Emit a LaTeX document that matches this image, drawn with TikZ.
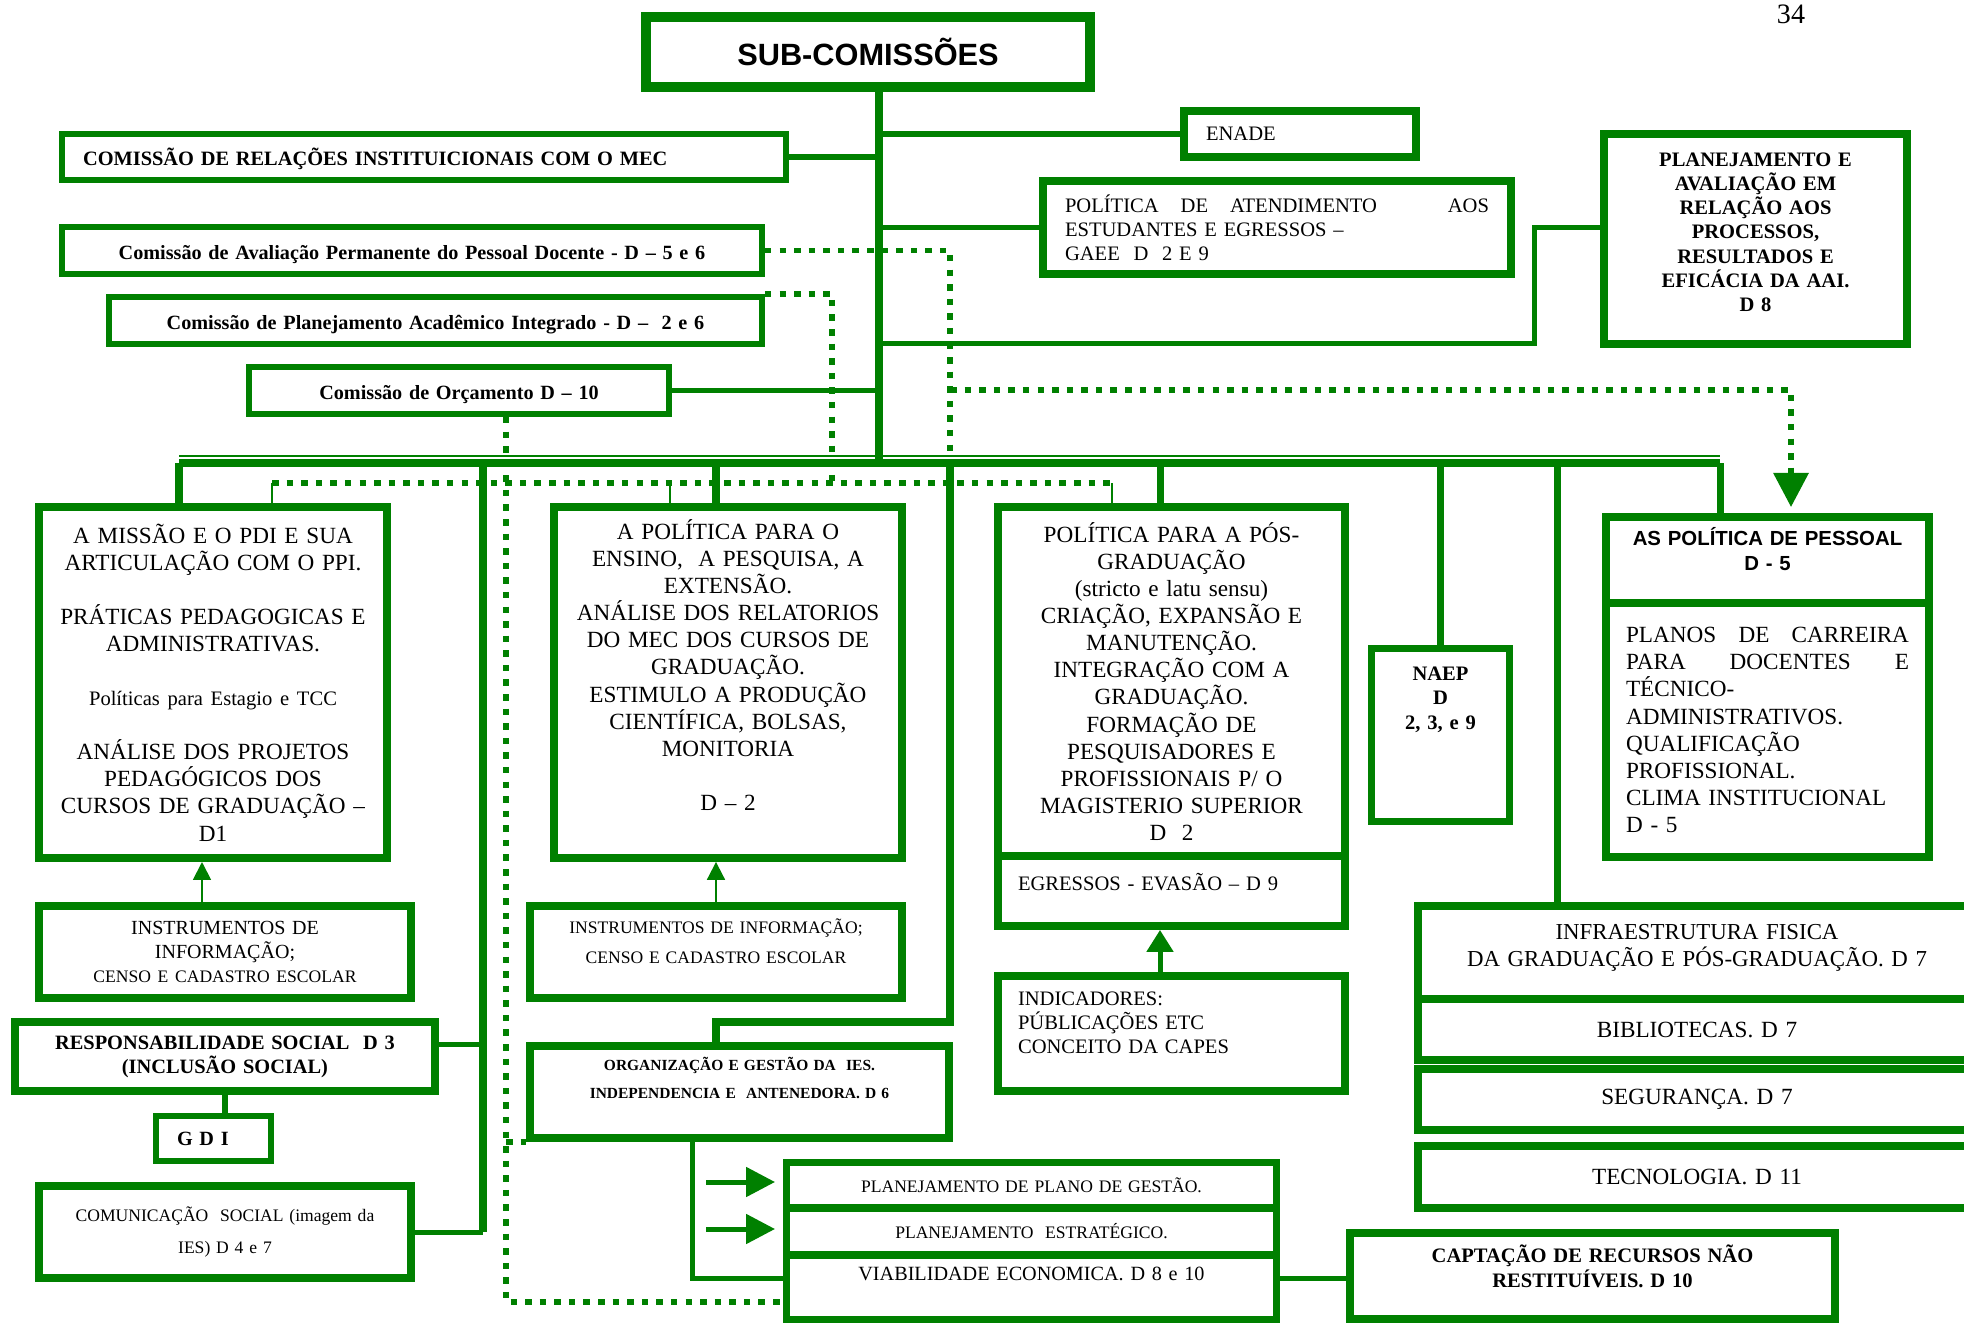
\documentclass[tikz,border=0pt]{standalone}
\usepackage{fontspec}
\setmainfont{Liberation Serif}
\newfontfamily\arialfont{Liberation Sans}
\usetikzlibrary{arrows.meta}
\definecolor{grn}{RGB}{0,128,0}
\newcommand{\bigtxt}{\fontsize{13.2}{15.4}\selectfont}
\newcommand{\midtxt}{\fontsize{11.7}{13.7}\selectfont}
\newcommand{\smltxt}{\fontsize{10}{17.2}\selectfont}
\newcommand{\lowpad}[1]{\rule[-#1]{0pt}{#1}}

\begin{document}
\begin{tikzpicture}[x=0.02cm, y=-0.02cm,
  bx/.style={draw=grn, line width=4.5pt, inner sep=0pt, align=center, font=\bigtxt},
  hd/.style={bx, line width=3.4pt, font=\bfseries\fontsize{11.5}{13.7}\selectfont},
  wh/.style 2 args={minimum width=#1, text width=#1, minimum height=#2}]
\tikzstyle{lnk}=[draw=grn, line width=2.85pt]
\tikzstyle{bus}=[draw=grn, line width=4pt]
\tikzstyle{tin}=[draw=grn, line width=1.1pt]
\tikzstyle{dts}=[draw=grn, line width=3.4pt, dash pattern=on 3.7pt off 4.6pt]
\useasboundingbox (0,0) rectangle (1964,1325);

\node[bx, line width=5.7pt, wh={8.88cm}{1.4cm}, font=\arialfont\bfseries\fontsize{17.5}{20}\selectfont] (sub) at (868,52) {SUB-COMISSÕES};
\node[font=\fontsize{16}{18}\selectfont] (pg) at (1791,14) {34};

\node[hd, wh={14.48cm}{0.92cm}, align=left, inner xsep=0.42cm, text width=13.64cm, font=\bfseries\fontsize{11.6}{13.7}\selectfont] (mec) at (424,157) {\rule{0pt}{12pt}COMISSÃO DE RELAÇÕES INSTITUICIONAIS COM O MEC};
\node[hd, wh={14.0cm}{0.94cm}] (aval) at (412,250.5) {\rule{0pt}{13pt}Comissão de Avaliação Permanente do Pessoal Docente - D – 5 e 6};
\node[hd, wh={13.06cm}{0.94cm}] (plac) at (435.5,320.5) {\rule{0pt}{13pt}Comissão de Planejamento Acadêmico Integrado - D –\ \ 2 e 6};
\node[hd, wh={8.4cm}{0.94cm}] (orc) at (459,390.5) {\rule{0pt}{13pt}Comissão de Orçamento D – 10};

\node[bx, wh={4.64cm}{0.92cm}, font=\midtxt, align=left, inner xsep=0.44cm, text width=3.76cm] (enade) at (1300,134) {ENADE};
\node[bx, wh={9.36cm}{1.86cm}, font=\midtxt, align=left, inner xsep=0.44cm, text width=8.48cm] (atend) at (1277,227.5) {POLÍTICA\hspace{0.44cm}DE\hspace{0.44cm}ATENDIMENTO\hfill AOS\\ESTUDANTES E EGRESSOS –\\GAEE\ \ D\ \ 2 E 9};
\node[bx, wh={6.06cm}{4.2cm}, font=\bfseries\fontsize{11.7}{13.8}\selectfont] (plan) at (1755.5,239) {PLANEJAMENTO E\\AVALIAÇÃO EM\\RELAÇÃO AOS\\PROCESSOS,\\RESULTADOS E\\EFICÁCIA DA AAI.\\D 8\lowpad{0.28cm}};

\node[bx, wh={6.96cm}{7.02cm}] (m1) at (213,682.5) {A MISSÃO E O PDI E SUA\\ARTICULAÇÃO COM O PPI.\\[15.4pt]PRÁTICAS PEDAGOGICAS E\\ADMINISTRATIVAS.\\[15.4pt]{\midtxt Políticas para Estagio e TCC}\\[15.4pt]ANÁLISE DOS PROJETOS\\PEDAGÓGICOS DOS\\CURSOS DE GRADUAÇÃO –\\D1};
\node[bx, wh={6.96cm}{7.02cm}] (m2) at (728,682.5) {A POLÍTICA PARA O\\ENSINO,\ \ A PESQUISA, A\\EXTENSÃO.\\ANÁLISE DOS RELATORIOS\\DO MEC DOS CURSOS DE\\GRADUAÇÃO.\\ESTIMULO A PRODUÇÃO\\CIENTÍFICA, BOLSAS,\\MONITORIA\\[15.4pt]D – 2\lowpad{0.7cm}};
\node[bx, wh={6.94cm}{6.98cm}] (m3) at (1171.5,681.5) {POLÍTICA PARA A PÓS-\\GRADUAÇÃO\\(stricto e latu sensu)\\CRIAÇÃO, EXPANSÃO E\\MANUTENÇÃO.\\INTEGRAÇÃO COM A\\GRADUAÇÃO.\\FORMAÇÃO DE\\PESQUISADORES E\\PROFISSIONAIS P/ O\\MAGISTERIO SUPERIOR\\D\ \ 2};
\node[bx, wh={6.94cm}{1.4cm}, font=\midtxt, align=left, inner xsep=0.4cm, text width=6.14cm] (egr) at (1171.5,891) {EGRESSOS - EVASÃO – D 9\lowpad{0.38cm}};
\node[bx, line width=4pt, wh={2.76cm}{3.46cm}, font=\bfseries\fontsize{11.7}{14}\selectfont] (naep) at (1440.5,735) {NAEP\\D\\2, 3, e 9\lowpad{1.48cm}};
\node[bx, wh={6.46cm}{1.72cm}, font=\arialfont\bfseries\fontsize{11.6}{14.2}\selectfont] (pes1) at (1767.5,560) {AS POLÍTICA DE PESSOAL\\D - 5\lowpad{0.44cm}};
\node[bx, wh={6.46cm}{5.08cm}, align=left, inner xsep=0.4cm, text width=5.66cm] (pes2) at (1767.5,730) {PLANOS\hfill DE\hfill CARREIRA\\PARA\hfill DOCENTES\hfill E\\TÉCNICO-\\ADMINISTRATIVOS.\\QUALIFICAÇÃO\\PROFISSIONAL.\\CLIMA INSTITUCIONAL\\D - 5};

\node[bx, wh={7.44cm}{1.84cm}, font=\fontsize{11.4}{13.7}\selectfont] (in1) at (225,952) {INSTRUMENTOS DE\\INFORMAÇÃO;\\{\fontsize{10}{13.7}\selectfont CENSO E CADASTRO ESCOLAR}};
\node[bx, wh={7.44cm}{1.84cm}, font=\smltxt] (in2) at (716,952) {INSTRUMENTOS DE INFORMAÇÃO;\\CENSO E CADASTRO ESCOLAR\lowpad{0.44cm}};
\node[bx, wh={8.4cm}{1.38cm}, font=\bfseries\fontsize{11.6}{13.7}\selectfont] (resp) at (225,1056.5) {RESPONSABILIDADE SOCIAL\ \ D 3\\(INCLUSÃO SOCIAL)};
\node[hd, wh={2.3cm}{0.9cm}, align=left, inner xsep=0.42cm, text width=1.46cm] (gdi) at (213.5,1138.5) {G D I};
\node[bx, wh={7.44cm}{1.84cm}, font=\fontsize{10}{18.2}\selectfont] (com) at (225,1232) {COMUNICAÇÃO\ \ SOCIAL (imagem da\\IES) D 4 e 7};
\node[bx, wh={8.38cm}{1.84cm}, font=\bfseries\fontsize{8.8}{16}\selectfont] (org) at (739.5,1092) {ORGANIZAÇÃO E GESTÃO DA\ \ IES.\\INDEPENDENCIA E\ \ ANTENEDORA. D 6\lowpad{0.56cm}};
\node[bx, wh={6.94cm}{2.3cm}, font=\midtxt, align=left, inner xsep=0.4cm, text width=6.14cm] (indic) at (1171.5,1033.5) {INDICADORES:\\PÚBLICAÇÕES ETC\\CONCEITO DA CAPES\lowpad{0.44cm}};

\node[bx, line width=4pt, wh={9.8cm}{0.91cm}, font=\fontsize{10}{12}\selectfont] (pg1) at (1031.5,1185) {PLANEJAMENTO DE PLANO DE GESTÃO.};
\node[bx, line width=4pt, wh={9.8cm}{0.94cm}, font=\fontsize{10}{12}\selectfont] (pg2) at (1031.5,1231.5) {PLANEJAMENTO\ \ ESTRATÉGICO.};
\node[bx, line width=4pt, wh={9.8cm}{1.29cm}, font=\fontsize{11.5}{13.7}\selectfont] (pg3) at (1031.5,1287) {VIABILIDADE ECONOMICA. D 8 e 10\lowpad{0.52cm}};
\node[bx, wh={9.7cm}{1.72cm}, font=\bfseries\fontsize{11.7}{14.2}\selectfont] (capt) at (1592.5,1276) {CAPTAÇÃO DE RECURSOS NÃO\\RESTITUÍVEIS. D 10\lowpad{0.38cm}};

\node[bx, wh={11.16cm}{1.86cm}, font=\fontsize{13}{15.4}\selectfont] (infra) at (1697,952.5) {INFRAESTRUTURA FISICA\\DA GRADUAÇÃO E PÓS-GRADUAÇÃO. D 7\lowpad{0.28cm}};
\node[bx, wh={11.16cm}{1.22cm}] (bib) at (1697,1029.5) {BIBLIOTECAS. D 7};
\node[bx, wh={11.16cm}{1.22cm}] (seg) at (1697,1099.5) {SEGURANÇA. D 7};
\node[bx, wh={11.16cm}{1.23cm}] (tec) at (1697,1177) {TECNOLOGIA. D 11};

\coordinate (tk) at (879,463);
\coordinate (bL) at (179,463);
\coordinate (bR) at (1720,463);
\coordinate (lv) at (483,463);
\coordinate (rv) at (950,463);
\coordinate (c2) at (716,463);
\coordinate (c3) at (1160,463);
\coordinate (c4) at (1440,463);
\coordinate (c5) at (1557,463);
\coordinate (pc) at (1534,343);
\coordinate (oc) at (716,1022);
\coordinate (vc) at (692,1278);
\coordinate (dl) at (272,483);
\coordinate (dm) at (670,483);
\coordinate (dr) at (1112,483);
\coordinate (dq) at (832,483);
\coordinate (pa) at (1791,390);
\coordinate (dv) at (506,1302);
\coordinate (a1) at (706,1182);
\coordinate (a2) at (706,1229);
\coordinate (i1) at (202,862);
\coordinate (rb) at ([yshift=0.25cm]resp.east);

\draw[bus] (sub.south -| tk) -- (tk);
\draw[bus] (bL) -- (bR);
\draw[tin] ([yshift=0.14cm]bL) -- ([yshift=0.14cm]bR);
\draw[bus] (bL) -- (bL |- m1.north);
\foreach \c/\n in {c2/m2, c3/m3, c4/naep, c5/infra, bR/pes1}{\draw[bus] (\c) -- (\c |- \n.north);}
\foreach \n in {mec, orc}{\draw[lnk] (\n.east) -- (\n.east -| tk);}
\foreach \n in {enade, atend}{\draw[lnk] (\n.west -| tk) -- (\n.west);}
\draw[lnk] (pc -| tk) -- (pc) |- (plan.west |- atend.west);

\draw[bus] (lv) -- (lv |- com.east);
\draw[lnk] (rb) -- (rb -| lv);
\draw[lnk] (com.east) -- (com.east -| lv);
\draw[lnk] (resp.south) -- (resp.south |- gdi.north);
\draw[bus] (rv) |- (oc) -- (oc |- org.north);
\draw[lnk] (vc |- org.south) -- (vc) -- (vc -| pg3.west);
\draw[lnk] (vc -| pg3.east) -- (vc -| capt.west);

\draw[tin, -{Triangle[length=10.2pt, width=10.2pt]}] (in1.north -| i1) -- (i1);
\draw[tin, -{Triangle[length=10.2pt, width=10.2pt]}] (in2.north) -- (in2.north |- m2.south);
\draw[lnk, -{Triangle[length=12.5pt, width=14.8pt]}] (indic.north -| c3) -- (egr.south -| c3);
\foreach \a/\n in {a1/pg1, a2/pg2}{\draw[lnk, -{Triangle[length=16.5pt, width=16.5pt]}, shorten >=0.16cm] (\a) -- (\a -| \n.west);}

\draw[dts] (aval.east) -| (rv);
\draw[dts, -{Triangle[length=19.4pt, width=19.4pt]}, shorten >=0.12cm] (pa -| rv) -- (pa) -- (pa |- pes1.north);
\draw[dts] (plac.north east) -| (dq);
\draw[dts] (dl) -- (dr);
\foreach \c/\n in {dl/m1, dm/m2, dr/m3}{\draw[tin] (\c) -- (\c |- \n.north);}
\draw[dts] (orc.south -| dv) -- (dv) -- (dv -| pg3.west);
\draw[dts] (dv |- org.south west) -- (org.south west);
\end{tikzpicture}
\end{document}
